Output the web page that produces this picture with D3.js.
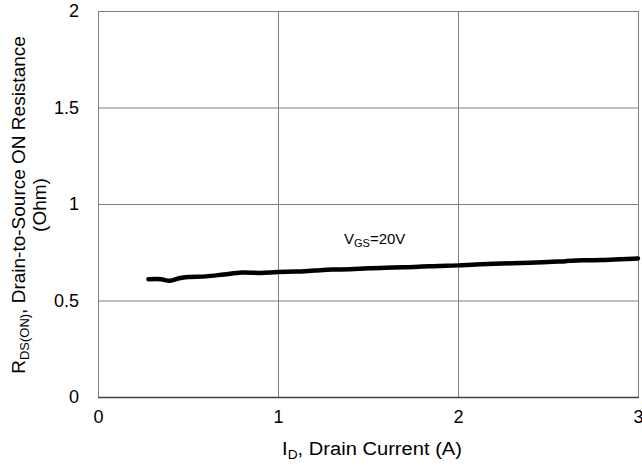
<!DOCTYPE html>
<html><head><meta charset="utf-8">
<script src="https://cdn.jsdelivr.net/npm/d3@7"></script>
<style>body{margin:0;background:#fff}svg{display:block}text{font-family:"Liberation Sans",Arial,sans-serif}</style>
</head><body>
<svg id="c" width="642" height="466"></svg>
<script>
const currentA = [0.28,0.35,0.40,0.45,0.5,0.6,0.7,0.8,0.9,1.0,1.1,1.2,1.3,1.4,1.5,1.6,1.7,1.8,1.9,2.0,2.1,2.2,2.3,2.4,2.5,2.6,2.7,2.8,2.9,3.0];
const rdsOhm = [0.61,0.61,0.602,0.615,0.622,0.625,0.635,0.645,0.643,0.648,0.650,0.655,0.660,0.662,0.667,0.670,0.672,0.676,0.679,0.682,0.687,0.690,0.693,0.696,0.699,0.704,0.708,0.710,0.714,0.718];
const xTicks = [0,1,2,3];
const yTicks = [0,0.5,1,1.5,2];

const svg = d3.select("#c");
const L=98,R=638,T=11,B=397;
const x = d3.scaleLinear().domain([0,3]).range([L,R]);
const y = d3.scaleLinear().domain([0,2]).range([B,T]);

const g = svg.append("g");
g.selectAll(".vg").data(xTicks).join("line")
  .attr("x1",d=>x(d)+0.5).attr("x2",d=>x(d)+0.5).attr("y1",T).attr("y2",B)
  .attr("stroke","#7f7f7f").attr("stroke-width",1);
g.selectAll(".hg").data(yTicks).join("line")
  .attr("x1",L).attr("x2",R+1).attr("y1",d=>y(d)+0.5).attr("y2",d=>y(d)+0.5)
  .attr("stroke",d=>d===0?"#404040":"#7f7f7f").attr("stroke-width",d=>d===0?1.5:1);

const ax = svg.append("g").attr("transform",`translate(0,${B})`)
  .call(d3.axisBottom(x).tickValues(xTicks).tickSize(0).tickPadding(13).tickFormat(d3.format("d")));
ax.select(".domain").remove();
ax.selectAll("text").attr("font-size",18).attr("fill","#000").attr("font-family","Liberation Sans, Arial, sans-serif");
const ay = svg.append("g").attr("transform",`translate(${L},0)`)
  .call(d3.axisLeft(y).tickValues(yTicks).tickSize(0).tickPadding(19).tickFormat(d=>String(d)));
ay.select(".domain").remove();
ay.selectAll("text").attr("font-size",18).attr("fill","#000").attr("font-family","Liberation Sans, Arial, sans-serif");

svg.append("path").datum(currentA.map((d,i)=>[d,rdsOhm[i]]))
  .attr("fill","none").attr("stroke","#000").attr("stroke-width",4.5)
  .attr("stroke-linecap","round").attr("stroke-linejoin","round")
  .attr("d",d3.line().x(d=>x(d[0])).y(d=>y(d[1])).curve(d3.curveCatmullRom));

const ann = svg.append("text").attr("x",344).attr("y",244).attr("font-size",15).attr("fill","#000");
ann.append("tspan").text("V");
ann.append("tspan").attr("font-size",11).attr("dy",3).text("GS");
ann.append("tspan").attr("dy",-3).text("=20V");

const xt = svg.append("text").attr("transform","translate(372,455) scale(1.06,1)").attr("text-anchor","middle").attr("font-size",19).attr("fill","#000");
xt.append("tspan").text("I");
xt.append("tspan").attr("font-size",13).attr("dy",4).text("D");
xt.append("tspan").attr("dy",-4).text(", Drain Current (A)");

const yt = svg.append("g").attr("transform","translate(0,205) rotate(-90)");
const y1 = yt.append("text").attr("x",0).attr("y",25).attr("text-anchor","middle").attr("font-size",19).attr("fill","#000");
y1.append("tspan").text("R");
y1.append("tspan").attr("font-size",13).attr("dy",4).text("DS(ON)");
y1.append("tspan").attr("dy",-4).text(", Drain-to-Source ON Resistance");
yt.append("text").attr("x",0).attr("y",46).attr("text-anchor","middle").attr("font-size",19).attr("fill","#000").text("(Ohm)");
</script>
</body></html>
